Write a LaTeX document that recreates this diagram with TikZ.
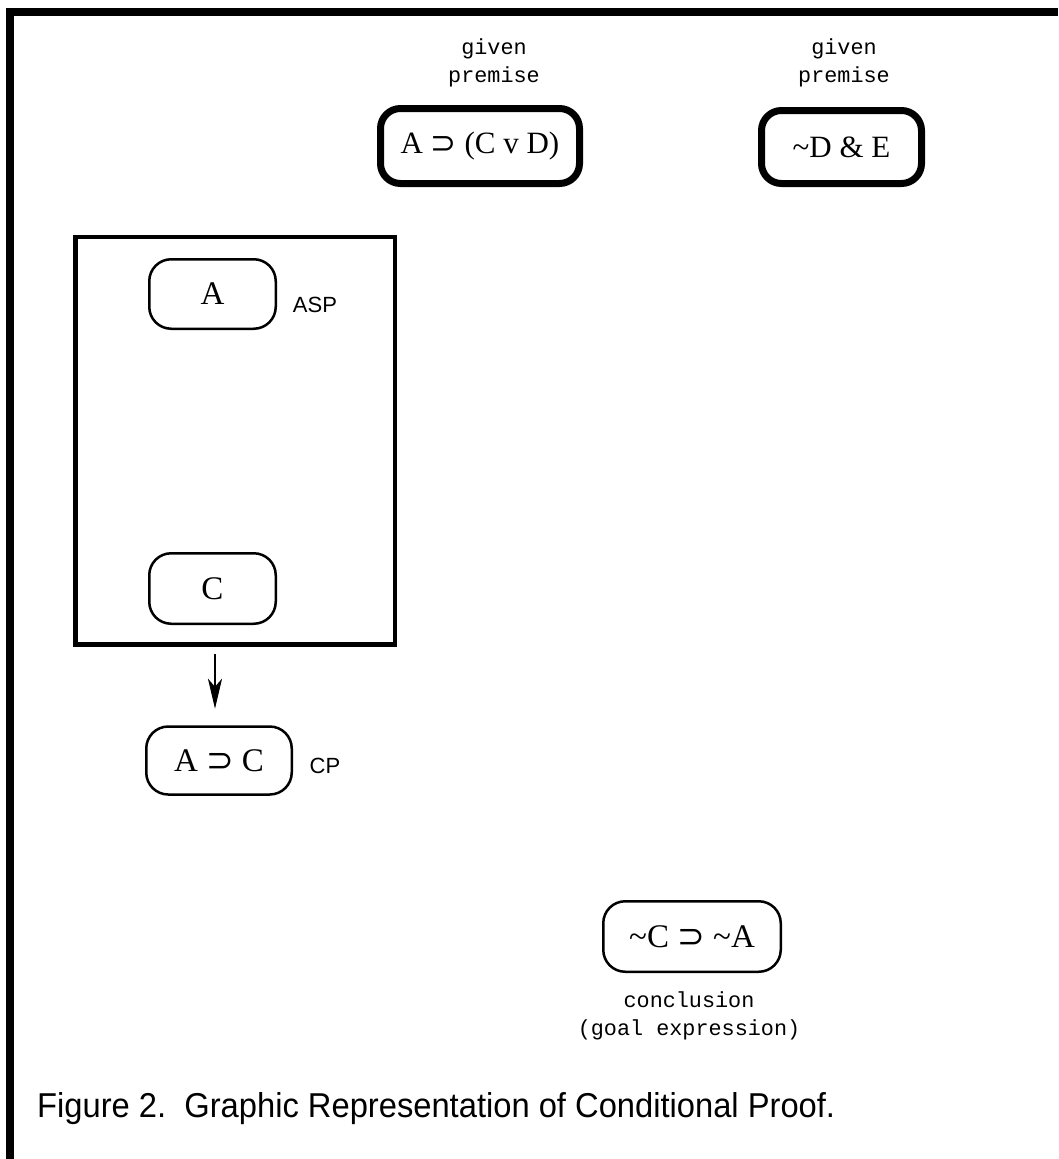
\documentclass[tikz,border=0pt]{standalone}
\usepackage{fontspec}
\setmainfont{Liberation Serif}
\setsansfont{Liberation Sans}
\setmonofont{Liberation Mono}
\newfontfamily\symfnt{DejaVu Sans}
\newcommand{\hooksup}{{\symfnt ⊃}}
\usetikzlibrary{arrows.meta}
\begin{document}
\begin{tikzpicture}[x=1pt,y=-1pt,
  thickbox/.style={draw, line width=7pt, rounded corners=20pt, inner sep=0pt, font=\fontsize{31}{38}\selectfont},
  thinbox/.style={draw, line width=2.5pt, rounded corners=22pt, inner sep=0pt, font=\fontsize{33}{40}\selectfont},
  lbl/.style={font=\fontsize{21.8}{28}\selectfont\ttfamily, align=center, inner sep=0pt},
  rulelbl/.style={font=\fontsize{22}{26}\selectfont\sffamily, inner sep=0pt}]
\useasboundingbox[fill=white] (0,0) rectangle (1058,1159);
\draw[line width=8pt] (10,1159) -- (10,11.5) -- (1058,11.5);

\node[thickbox, minimum width=199pt, minimum height=75pt] (p1) at (480,146) {A \hooksup\ (C v D)};
\node[thickbox, minimum width=160pt, minimum height=73pt] (p2) at (841.5,147) {\textasciitilde D \& E};
\node[lbl] (l1) at (494,63) {given\\premise};
\node[lbl] (l2) at (844,63) {given\\premise};

\node[draw, line width=4.5pt, minimum width=319.5pt, minimum height=407.5pt, inner sep=0pt] (sub) at (235.25,440.75) {};
\node[thinbox, minimum width=126.5pt, minimum height=69.5pt] (a) at (212.5,294) {A};
\node[rulelbl] (asp) at (315,305) {ASP};
\node[thinbox, minimum width=126.5pt, minimum height=70.5pt] (c) at (212.5,588.5) {C};
\node[thinbox, minimum width=145.5pt, minimum height=68pt] (ac) at (219,760.5) {A \hooksup\ C};
\node[rulelbl] (cp) at (325,766) {CP};
\draw[line width=2.5pt, -{Stealth[length=30pt,width=14pt,inset=8pt]}]
  ([xshift=-4pt,yshift=-7.5pt]sub.south -| ac.north) -- ([xshift=-4pt,yshift=16.5pt]ac.north);

\node[thinbox, minimum width=177.5pt, minimum height=70.5pt] (g) at (692,936.5) {\textasciitilde C \hooksup\ \textasciitilde A};
\node[lbl] (gl) at (689,1016) {conclusion\\(goal expression)};

\node[anchor=base west, inner sep=0pt, font=\fontsize{30}{36}\selectfont\sffamily] (cap) at (37,1117)
  {\resizebox{798pt}{25pt}{Figure 2.\ \ Graphic Representation of Conditional Proof.}};
\end{tikzpicture}
\end{document}
